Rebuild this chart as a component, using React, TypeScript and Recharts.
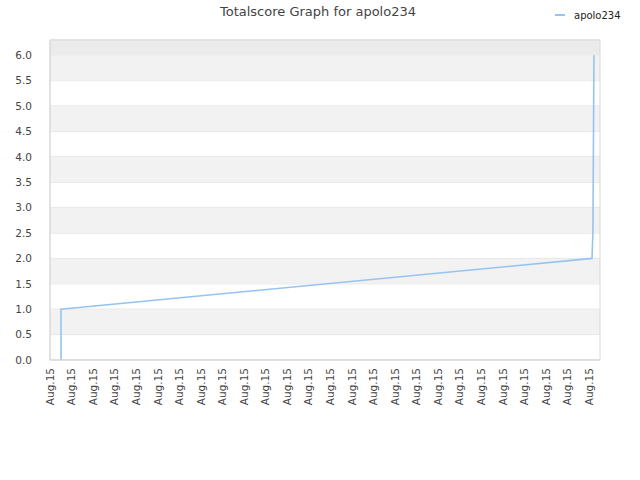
import { ComposedChart, Line, XAxis, YAxis, CartesianGrid, ReferenceArea } from "recharts";

// submission positions along the time axis and the running total score
const timeline = [0.51, 0.51, 25.13, 25.17, 25.22];
const scores = [0, 1.0, 2.0, 2.5, 6.0];

// one "Aug.15" label for every date slot
const dateLabels = Array.from({ length: 26 }, () => "Aug.15");
const yTicks = [0, 0.5, 1, 1.5, 2, 2.5, 3, 3.5, 4, 4.5, 5, 5.5, 6];
const shadedBands = [
  [0.5, 1.0],
  [1.5, 2.0],
  [2.5, 3.0],
  [3.5, 4.0],
  [4.5, 5.0],
  [5.5, 6.0],
];

const player = "apolo234";
const lineColor = "#96c4f0";
const font = "DejaVu Sans, sans-serif";

const data = timeline.map((t, i) => ({ t, score: scores[i] }));

function DateTick(props: any) {
  const { x, payload } = props;
  const y = 368;
  return (
    <text
      x={x}
      y={y}
      dy="0.35em"
      transform={`rotate(-90, ${x}, ${y})`}
      textAnchor="end"
      fill="#444"
      fontSize={10.5}
      fontFamily={font}
    >
      {dateLabels[payload.value] ?? ""}
    </text>
  );
}

export default function App() {
  return (
    <div style={{ position: "absolute", left: 0, top: 0, width: 640, height: 480, background: "#fff" }}>
      <div
        style={{
          position: "absolute",
          top: 4,
          left: 0,
          width: 636,
          textAlign: "center",
          fontFamily: font,
          fontSize: 13,
          color: "#444",
          zIndex: 2,
        }}
      >
        Totalscore Graph for {player}
      </div>
      <svg width={640} height={30} style={{ position: "absolute", left: 0, top: 0, zIndex: 2 }}>
        <line x1={555} y1={15} x2={565} y2={15} stroke={lineColor} strokeWidth={2} />
        <text x={574} y={15} dy="0.35em" fontSize={10} fontFamily={font} fill="#222">
          {player}
        </text>
      </svg>
      <ComposedChart
        width={640}
        height={480}
        data={data}
        margin={{ top: 40, right: 40, left: 0, bottom: 0 }}
      >
        <ReferenceArea x1={0} x2={25.5} y1={6.0} y2={6.3} fill="#ebebeb" fillOpacity={1} stroke="none" />
        {shadedBands.map(([a, b]) => (
          <ReferenceArea key={a} x1={0} x2={25.5} y1={a} y2={b} fill="#f2f2f2" fillOpacity={1} stroke="none" />
        ))}
        <CartesianGrid vertical={false} stroke="#dddddd" />
        <XAxis
          type="number"
          dataKey="t"
          domain={[0, 25.5]}
          ticks={dateLabels.map((_, i) => i)}
          interval={0}
          height={120}
          tickLine={false}
          axisLine={{ stroke: "#d9d9d9" }}
          tick={<DateTick />}
        />
        <YAxis
          type="number"
          domain={[0, 6.3]}
          ticks={yTicks}
          interval={0}
          width={50}
          tickLine={false}
          axisLine={{ stroke: "#d9d9d9" }}
          tickFormatter={(v: number) => v.toFixed(1)}
          tick={{ fill: "#444", fontSize: 10.5, fontFamily: font }}
          tickMargin={12}
        />
        <ReferenceArea x1={0} x2={25.5} y1={0} y2={6.3} fill="none" stroke="#d9d9d9" />
        <Line
          type="linear"
          dataKey="score"
          name={player}
          stroke={lineColor}
          strokeWidth={1.6}
          dot={false}
          isAnimationActive={false}
        />
      </ComposedChart>
    </div>
  );
}
